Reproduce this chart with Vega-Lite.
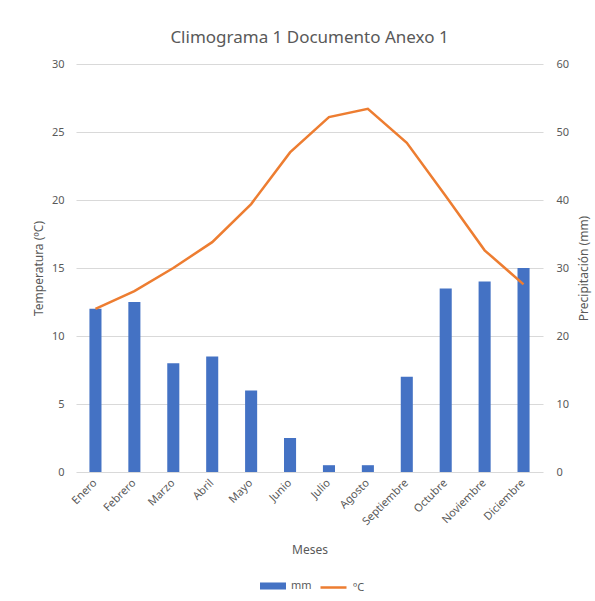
{
  "$schema": "https://vega.github.io/schema/vega-lite/v6.json",
  "width": 467,
  "height": 408,
  "autosize": "none",
  "padding": {"left": 76, "top": 64, "right": 52, "bottom": 129},
  "background": "white",
  "title": {
    "text": "Climograma 1 Documento Anexo 1",
    "font": "Noto Sans",
    "fontSize": 17,
    "fontWeight": "normal",
    "color": "#595959",
    "anchor": "middle",
    "offset": 11
  },
  "data": {
    "values": [
      {"mes": "Enero", "temp": 12.0, "prec": 24},
      {"mes": "Febrero", "temp": 13.3, "prec": 25},
      {"mes": "Marzo", "temp": 15.0, "prec": 16},
      {"mes": "Abril", "temp": 16.9, "prec": 17},
      {"mes": "Mayo", "temp": 19.7, "prec": 12},
      {"mes": "Junio", "temp": 23.5, "prec": 5},
      {"mes": "Julio", "temp": 26.1, "prec": 1},
      {"mes": "Agosto", "temp": 26.7, "prec": 1},
      {"mes": "Septiembre", "temp": 24.2, "prec": 14},
      {"mes": "Octubre", "temp": 20.3, "prec": 27},
      {"mes": "Noviembre", "temp": 16.3, "prec": 28},
      {"mes": "Diciembre", "temp": 13.8, "prec": 30}
    ]
  },
  "encoding": {
    "x": {
      "field": "mes",
      "type": "nominal",
      "sort": null,
      "scale": {"paddingInner": 0.69, "paddingOuter": 0.345},
      "axis": {
        "title": "Meses",
        "labelAngle": -45,
        "labelAlign": "right",
        "labelBaseline": "middle",
        "labelPadding": 9,
        "titlePadding": 18,
        "grid": false,
        "domain": false,
        "ticks": false
      }
    }
  },
  "layer": [
    {
      "mark": {"type": "bar", "color": "#4472C4"},
      "encoding": {
        "y": {
          "field": "prec",
          "type": "quantitative",
          "scale": {"domain": [0, 60]},
          "axis": {
            "orient": "right",
            "title": "Precipitación (mm)",
            "titleAngle": -90,
            "values": [0, 10, 20, 30, 40, 50, 60],
            "grid": false,
            "labelPadding": 13,
            "titlePadding": 22
          }
        },
        "fill": {
          "datum": "mm",
          "type": "nominal",
          "scale": {"range": ["#4472C4"]},
          "legend": {
            "title": null,
            "orient": "none",
            "legendX": 184,
            "legendY": 509,
            "symbolType": "M-1,-0.27H1V0.27H-1Z",
            "symbolSize": 676,
            "symbolStrokeWidth": 0
          }
        }
      }
    },
    {
      "mark": {"type": "line", "color": "#ED7D31", "strokeWidth": 2.5},
      "encoding": {
        "y": {
          "field": "temp",
          "type": "quantitative",
          "scale": {"domain": [0, 30]},
          "axis": {
            "orient": "left",
            "title": "Temperatura (ºC)",
            "values": [0, 5, 10, 15, 20, 25, 30],
            "grid": true,
            "labelPadding": 12,
            "titlePadding": 6
          }
        },
        "stroke": {
          "datum": "ºC",
          "type": "nominal",
          "scale": {"range": ["#ED7D31"]},
          "legend": {
            "title": null,
            "orient": "none",
            "legendX": 243,
            "legendY": 509,
            "symbolType": "stroke",
            "symbolSize": 676,
            "symbolStrokeWidth": 2.5
          }
        }
      }
    }
  ],
  "resolve": {"scale": {"y": "independent"}},
  "config": {
    "view": {"stroke": null},
    "font": "Noto Sans",
    "axis": {
      "labelFont": "Noto Sans",
      "titleFont": "Noto Sans",
      "labelFontSize": 11,
      "titleFontSize": 12,
      "labelColor": "#595959",
      "titleColor": "#595959",
      "titleFontWeight": "normal",
      "gridColor": "#D9D9D9",
      "gridWidth": 1,
      "domain": false,
      "ticks": false
    },
    "legend": {
      "labelFont": "Noto Sans",
      "labelFontSize": 11,
      "labelColor": "#595959",
      "labelOffset": 5
    }
  }
}
